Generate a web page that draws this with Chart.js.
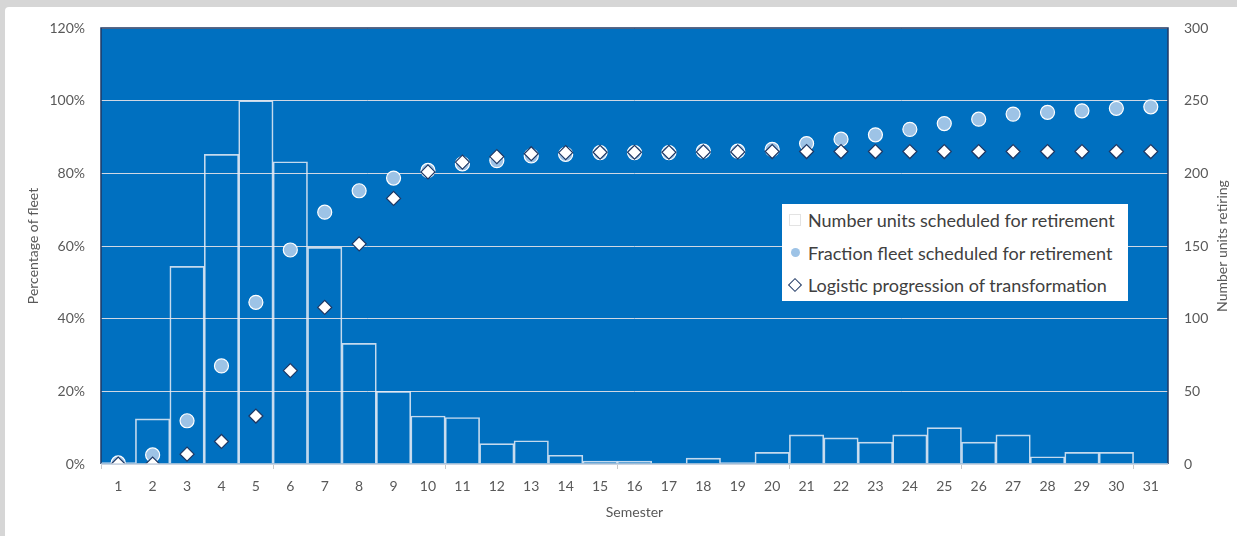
<!DOCTYPE html>
<html lang="en">
<head>
    <meta charset="UTF-8">
    <title>Fleet retirement by semester</title>
    <script src="https://cdn.jsdelivr.net/npm/chart.js"></script>
    <style>
        body {
            margin: 0;
            padding: 0;
            background-color: #d6d6d6;
            font-family: Lato, 'Open Sans', sans-serif;
            overflow: hidden;
        }

        .card {
            position: absolute;
            left: 5px;
            top: 7px;
            right: 0;
            bottom: 0;
            background-color: #ffffff;
            border-top-left-radius: 4px;
        }

        .wrap {
            position: absolute;
            left: 0;
            top: 0;
            width: 1237px;
            height: 536px;
        }

        .legend {
            position: absolute;
            left: 782px;
            top: 204px;
            width: 346px;
            height: 97px;
            background-color: #ffffff;
            box-sizing: border-box;
            padding-top: 0;
        }

        .legend-row {
            display: flex;
            align-items: center;
            height: 32.5px;
            font-size: 18px;
            color: #404040;
        }

        .marker {
            width: 26px;
            display: flex;
            justify-content: center;
            align-items: center;
        }

        .sq {
            width: 10px;
            height: 10px;
            border: 1px solid #e3e3e3;
            background: #ffffff;
        }

        .dot {
            width: 9px;
            height: 9px;
            border-radius: 50%;
            background: #9dc3e6;
        }

        .dia {
            width: 8px;
            height: 8px;
            border: 1.3px solid #1f3864;
            background: #ffffff;
            transform: rotate(45deg);
        }
    </style>
</head>
<body>
    <div class="card"></div>
    <div class="wrap">
        <canvas id="retirementChart" width="1237" height="536"></canvas>
        <div class="legend">
            <div class="legend-row"><span class="marker"><span class="sq"></span></span>Number units scheduled for retirement</div>
            <div class="legend-row"><span class="marker"><span class="dot"></span></span>Fraction fleet scheduled for retirement</div>
            <div class="legend-row"><span class="marker"><span class="dia"></span></span>Logistic progression of transformation</div>
        </div>
    </div>

    <script>
        // semesters 1..31
        const semesters = ['1', '2', '3', '4', '5', '6', '7', '8', '9', '10', '11', '12', '13', '14', '15', '16',
            '17', '18', '19', '20', '21', '22', '23', '24', '25', '26', '27', '28', '29', '30', '31'];

        // units retiring (right axis)
        const unitsRetiring = [1, 31, 136, 213, 250, 208, 149, 83, 50, 33, 32, 14, 16, 6, 2, 2,
            0, 4, 1, 8, 20, 18, 15, 20, 25, 15, 20, 5, 8, 8, 0];

        // cumulative fraction of fleet, percent (left axis)
        const fleetFraction = [0.3, 2.5, 11.9, 27.0, 44.5, 58.9, 69.3, 75.2, 78.7, 80.8, 82.6, 83.5, 84.8, 85.2, 85.7, 85.7,
            85.7, 86.1, 86.1, 86.6, 88.2, 89.4, 90.6, 92.1, 93.7, 94.9, 96.3, 96.8, 97.2, 97.9, 98.3];

        // logistic curve, percent (left axis)
        const logisticCurve = [0, 0, 2.7, 6.2, 13.2, 25.7, 43.1, 60.6, 73.1, 80.4, 83.1, 84.6, 85.4, 85.7, 85.8, 85.8,
            85.8, 85.9, 85.9, 86.0, 86.0, 86.0, 86.0, 86.0, 86.0, 86.0, 86.0, 86.0, 86.0, 86.0, 86.0];

        const leftTicks = [0, 20, 40, 60, 80, 100, 120];
        const rightTicks = [0, 50, 100, 150, 200, 250, 300];

        const textGrey = '#595959';
        const tickFont = { family: 'Lato', size: 14 };

        // blue plot background + frame
        const plotFrame = {
            id: 'plotFrame',
            beforeDraw(chart) {
                const { ctx, chartArea: a } = chart;
                ctx.save();
                ctx.fillStyle = '#0070c0';
                ctx.fillRect(a.left, a.top, a.right - a.left, a.bottom - a.top);
                ctx.restore();
            },
            afterDraw(chart) {
                const { ctx, chartArea: a } = chart;
                ctx.save();
                ctx.lineWidth = 1.5;
                ctx.strokeStyle = '#1f3864';
                ctx.beginPath();
                ctx.moveTo(a.left, a.bottom);
                ctx.lineTo(a.left, a.top);
                ctx.lineTo(a.right, a.top);
                ctx.lineTo(a.right, a.bottom);
                ctx.stroke();
                ctx.strokeStyle = '#c9d3e0';
                ctx.lineWidth = 1.5;
                ctx.beginPath();
                ctx.moveTo(a.left, a.bottom);
                ctx.lineTo(a.right, a.bottom);
                ctx.stroke();

                // right axis title reads bottom to top
                ctx.translate(1222, (a.top + a.bottom) / 2);
                ctx.rotate(-Math.PI / 2);
                ctx.fillStyle = textGrey;
                ctx.font = '14px Lato';
                ctx.textAlign = 'center';
                ctx.textBaseline = 'middle';
                ctx.fillText('Number units retiring', 0, 0);
                ctx.restore();
            }
        };

        const ctx = document.getElementById('retirementChart').getContext('2d');
        new Chart(ctx, {
            data: {
                labels: semesters,
                datasets: [
                    {
                        type: 'line',
                        label: 'Logistic progression of transformation',
                        data: logisticCurve,
                        yAxisID: 'yLeft',
                        showLine: false,
                        pointStyle: 'rectRot',
                        pointRadius: 7,
                        pointBackgroundColor: '#ffffff',
                        pointBorderColor: '#1f3864',
                        pointBorderWidth: 1.2,
                        order: 0
                    },
                    {
                        type: 'line',
                        label: 'Fraction fleet scheduled for retirement',
                        data: fleetFraction,
                        yAxisID: 'yLeft',
                        showLine: false,
                        pointStyle: 'circle',
                        pointRadius: 7,
                        pointBackgroundColor: '#9dc3e6',
                        pointBorderColor: '#ffffff',
                        pointBorderWidth: 1.2,
                        order: 1
                    },
                    {
                        type: 'bar',
                        label: 'Number units scheduled for retirement',
                        data: unitsRetiring,
                        yAxisID: 'yRight',
                        backgroundColor: 'rgba(0,0,0,0)',
                        borderColor: 'rgba(230,236,246,0.85)',
                        borderWidth: 1,
                        barPercentage: 1,
                        categoryPercentage: 1,
                        order: 2
                    }
                ]
            },
            options: {
                responsive: false,
                animation: false,
                layout: { padding: { left: 0, right: 0, top: 28, bottom: 0 } },
                plugins: {
                    legend: { display: false },
                    tooltip: { enabled: false }
                },
                scales: {
                    x: {
                        offset: true,
                        grid: {
                            offset: true,
                            drawOnChartArea: false,
                            drawTicks: true,
                            tickLength: 5,
                            color: c => (c.index % 5 === 0 ? '#c8c8c8' : 'rgba(0,0,0,0)')
                        },
                        border: { display: false },
                        ticks: { color: textGrey, font: tickFont, padding: 9, maxRotation: 0, autoSkip: false },
                        title: {
                            display: true,
                            text: 'Semester',
                            color: textGrey,
                            font: { family: 'Lato', size: 14 },
                            padding: { top: 0, bottom: 15 }
                        },
                        afterFit: s => { s.height = 72; }
                    },
                    yLeft: {
                        position: 'left',
                        min: 0,
                        max: 120,
                        afterBuildTicks: s => { s.ticks = leftTicks.map(v => ({ value: v })); },
                        grid: { color: '#d0d8e4', lineWidth: 1, drawTicks: false },
                        border: { display: false },
                        ticks: { color: textGrey, font: tickFont, padding: 16, callback: v => v + '%' },
                        title: {
                            display: true,
                            text: 'Percentage of fleet',
                            color: textGrey,
                            font: { family: 'Lato', size: 14 },
                            padding: { top: 25, bottom: 0 }
                        },
                        afterFit: s => { s.width = 101; }
                    },
                    yRight: {
                        position: 'right',
                        min: 0,
                        max: 300,
                        afterBuildTicks: s => { s.ticks = rightTicks.map(v => ({ value: v })); },
                        grid: { drawOnChartArea: false, drawTicks: false },
                        border: { display: false },
                        ticks: { color: textGrey, font: tickFont, padding: 16 },
                        afterFit: s => { s.width = 69; }
                    }
                }
            },
            plugins: [plotFrame]
        });
    </script>
</body>
</html>
